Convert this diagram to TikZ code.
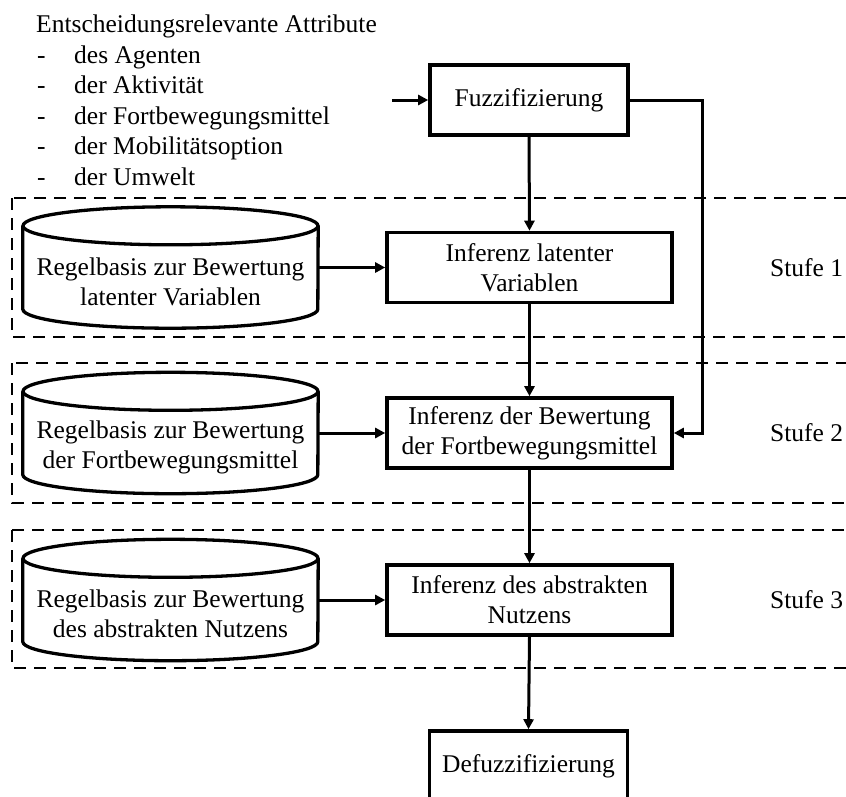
\documentclass[tikz,border=0pt]{standalone}
\usepackage{fontspec}
\setmainfont{Liberation Serif}
\usetikzlibrary{arrows.meta,calc}
\begin{document}
\begin{tikzpicture}[x=1pt,y=1pt,
  every node/.style={font=\fontsize{25.5}{30}\selectfont},
  procbox/.style={draw,line width=3.6pt,minimum width=285pt,minimum height=70pt,align=center,inner sep=0pt},
  ioproc/.style={draw,line width=3.6pt,minimum width=198pt,minimum height=70pt,inner sep=0pt},
  cylbody/.style={minimum width=295pt,minimum height=121pt,inner sep=0pt},
  cyltext/.style={align=center,inner sep=0pt},
  cylline/.style={line width=3.3pt},
  stage/.style={line width=2.4pt,dash pattern=on 12pt off 8pt},
  arr/.style={line width=3pt,-{Triangle[length=10pt,width=10pt]}},
  listtxt/.style={anchor=base west,inner sep=0pt},
  steplabel/.style={anchor=west,inner sep=0pt}]
\clip (0,0) rectangle (846,-796);
\fill[white] (0,0) rectangle (846,-796);

% stage frames (open to the right)
\draw[stage] (12,-198) rectangle (900,-337);
\draw[stage] (12,-363) rectangle (900,-503);
\draw[stage] (12,-530) rectangle (900,-668);

% attribute list
\node[listtxt] (hdr) at (36,-32) {Entscheidungsrelevante Attribute};
\node[listtxt] (d1) at (37,-63) {-};
\node[listtxt] (a1) at (74,-63) {des Agenten};
\node[listtxt] (d2) at (37,-93.5) {-};
\node[listtxt] (a2) at (74,-93.5) {der Aktivität};
\node[listtxt] (d3) at (37,-124) {-};
\node[listtxt] (a3) at (74,-124) {der Fortbewegungsmittel};
\node[listtxt] (d4) at (37,-154.5) {-};
\node[listtxt] (a4) at (74,-154.5) {der Mobilitätsoption};
\node[listtxt] (d5) at (37,-185) {-};
\node[listtxt] (a5) at (74,-185) {der Umwelt};

% process boxes
\node[ioproc] (fz) at (529,-100) {Fuzzifizierung};
\node[procbox] (i1) at (529.5,-267.5) {Inferenz latenter\\Variablen};
\node[procbox] (i2) at (529.5,-433) {Inferenz der Bewertung\\der Fortbewegungsmittel};
\node[procbox] (i3) at (529.5,-600) {Inferenz des abstrakten\\Nutzens};
\node[ioproc] (df) at (528.5,-766) {Defuzzifizierung};

% rule bases (cylinders)
\foreach \n/\y in {r1/-267.5, r2/-433, r3/-600} {
  \node[cylbody] (\n) at (170.5,\y) {};
  \draw[cylline,fill=white] ($(\n.north west)+(0,-19)$) -- ($(\n.south west)+(0,19)$)
    arc[start angle=180,end angle=360,x radius=147.5,y radius=19]
    -- ($(\n.north east)+(0,-19)$);
  \draw[cylline] ($(\n.north)+(0,-19)$) ellipse[x radius=147.5,y radius=19];
}
\node[cyltext] (r1t) at ($(r1.center)+(0,-14)$) {Regelbasis zur Bewertung\\latenter Variablen};
\node[cyltext] (r2t) at ($(r2.center)+(0,-14)$) {Regelbasis zur Bewertung\\der Fortbewegungsmittel};
\node[cyltext] (r3t) at ($(r3.center)+(0,-14)$) {Regelbasis zur Bewertung\\des abstrakten Nutzens};

% stage labels
\node[steplabel] (s1) at (770,-267.5) {Stufe 1};
\node[steplabel] (s2) at (770,-433) {Stufe 2};
\node[steplabel] (s3) at (770,-600) {Stufe 3};

% connectors
\coordinate (in) at (392,-100);
\draw[arr] (in) -- (fz.west);
\draw[arr] (fz.south) -- (i1.north);
\draw[arr] (i1.south) -- (i2.north);
\draw[arr] (i2.south) -- (i3.north);
\draw[arr] (i3.south) -- (df.north);
\draw[arr] (r1.east) -- (i1.west);
\draw[arr] (r2.east) -- (i2.west);
\draw[arr] (r3.east) -- (i3.west);
\draw[arr] (fz.east) -| ($(i2.east)+(29,0)$) -- (i2.east);
\end{tikzpicture}
\end{document}
